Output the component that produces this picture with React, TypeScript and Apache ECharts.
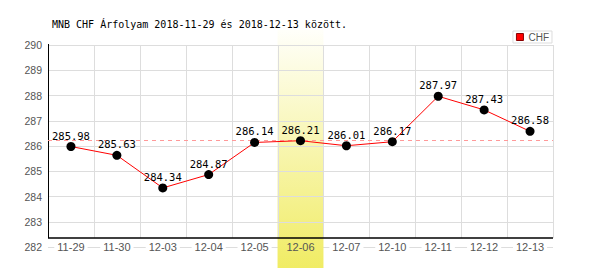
import React, { useEffect, useRef } from "react";
import * as echarts from "echarts";

const categories = ["11-29", "11-30", "12-03", "12-04", "12-05", "12-06", "12-07", "12-10", "12-11", "12-12", "12-13"];
const values = [285.98, 285.63, 284.34, 284.87, 286.14, 286.21, 286.01, 286.17, 287.97, 287.43, 286.58];
const selectedIndex = 5;
const referenceLevel = 286.21;
const yMin = 282;
const yMax = 290;
const yInterval = 1;
const titleText = "MNB CHF Árfolyam 2018-11-29 és 2018-12-13 között.";
const seriesName = "CHF";

const MONO = "'DejaVu Sans Mono', monospace";
const SANS = "'Liberation Sans', Arial, sans-serif";

export default function App() {
  const ref = useRef<HTMLDivElement>(null);
  useEffect(() => {
    if (!ref.current) return;
    const chart = echarts.init(ref.current, null, { renderer: "svg" });
    const base: any = {
      animation: false,
      title: {
        text: titleText,
        left: 52,
        top: 19,
        padding: 0,
        textStyle: { fontFamily: MONO, fontSize: 10, fontWeight: "normal", color: "#000" },
      },
      legend: {
        right: 48,
        top: 31,
        padding: [1, 3, 1, 3],
        borderColor: "#dddddd",
        borderWidth: 1,
        itemWidth: 7,
        itemHeight: 7,
        textStyle: { fontFamily: SANS, fontSize: 10, color: "#555" },
        data: [{ name: seriesName, icon: "rect", itemStyle: { color: "#ff0000", borderColor: "#880000", borderWidth: 1 } }],
      },
      grid: { left: 48, right: 47, top: 45, bottom: 23 },
      xAxis: {
        type: "category",
        z: 3,
        data: categories.map((c, i) => ({
          value: c,
          textStyle: { backgroundColor: i === selectedIndex ? "transparent" : "#ffffff" },
        })),
        boundaryGap: true,
        axisLine: { show: false },
        axisTick: { show: false },
        splitLine: { show: false },
        axisLabel: {
          margin: -6,
          fontFamily: SANS,
          fontSize: 11,
          color: "#555",
          padding: [0, 3, 0, 3],
          interval: 0,
        },
      },
      yAxis: {
        type: "value",
        min: yMin,
        max: yMax,
        interval: yInterval,
        z: 0,
        axisLine: { show: false },
        axisTick: { show: false },
        splitLine: { lineStyle: { color: "#dddddd", width: 1 } },
        axisLabel: { margin: 6, fontFamily: SANS, fontSize: 10.5, color: "#555" },
      },
      series: [
        {
          name: seriesName,
          type: "line",
          z: 5,
          data: values,
          lineStyle: { color: "#ff0000", width: 1 },
          itemStyle: { color: "#000000" },
          symbol: "circle",
          symbolSize: 9,
          label: {
            show: true,
            position: "top",
            distance: 1,
            fontFamily: MONO,
            fontSize: 10.5,
            color: "#000",
          },
          markLine: {
            silent: true,
            symbol: "none",
            label: { show: false },
            lineStyle: { color: "#ff9999", type: [4, 4], width: 1 },
            data: [{ yAxis: referenceLevel }],
          },
        },
      ],
    };
    chart.setOption(base);

    const x0 = chart.convertToPixel({ xAxisIndex: 0 }, 0) as number;
    const x1 = chart.convertToPixel({ xAxisIndex: 0 }, 1) as number;
    const step = x1 - x0;
    const yTop = chart.convertToPixel({ yAxisIndex: 0 }, yMax) as number;
    const yBot = chart.convertToPixel({ yAxisIndex: 0 }, yMin) as number;
    const axisY = yBot - 9;
    const n = categories.length;
    const bx = (i: number) => x0 - step / 2 + i * step;

    const bandTop = 30;
    const bandBottom = 268;
    const split = axisY + 1;
    const c0 = [255, 255, 250];
    const c1 = [240, 236, 100];
    const mix = (t: number) =>
      `rgb(${c0.map((v, k) => Math.round(v + (c1[k] - v) * t)).join(",")})`;
    const tSplit = (split - bandTop) / (bandBottom - bandTop);

    const elements: any[] = [];
    elements.push({
      type: "rect",
      z: -10,
      silent: true,
      shape: { x: bx(selectedIndex), y: bandTop, width: step, height: split - bandTop },
      style: {
        fill: new echarts.graphic.LinearGradient(0, 0, 0, 1, [
          { offset: 0, color: mix(0) },
          { offset: 1, color: mix(tSplit) },
        ]),
      },
    });
    elements.push({
      type: "rect",
      z: 1,
      silent: true,
      shape: { x: bx(selectedIndex), y: split, width: step, height: bandBottom - split },
      style: {
        fill: new echarts.graphic.LinearGradient(0, 0, 0, 1, [
          { offset: 0, color: mix(tSplit) },
          { offset: 1, color: mix(1) },
        ]),
      },
    });
    for (let i = 1; i <= n; i++) {
      elements.push({
        type: "line",
        z: 1,
        silent: true,
        shape: { x1: Math.round(bx(i)) + 0.5, y1: yTop, x2: Math.round(bx(i)) + 0.5, y2: axisY },
        style: { stroke: "#dddddd", lineWidth: 1 },
      });
    }
    elements.push({
      type: "line",
      z: 4,
      silent: true,
      shape: { x1: Math.round(bx(0)) + 0.5, y1: yTop - 1, x2: Math.round(bx(0)) + 0.5, y2: axisY },
      style: { stroke: "#000", lineWidth: 1 },
    });
    elements.push({
      type: "line",
      z: 4,
      silent: true,
      shape: { x1: bx(0), y1: axisY, x2: bx(n), y2: axisY },
      style: { stroke: "#000", lineWidth: 1.5 },
    });
    chart.setOption({ graphic: { elements } });

    return () => chart.dispose();
  }, []);
  return <div ref={ref} style={{ position: "fixed", left: 0, top: 0, width: 600, height: 270, background: "#fff" }} />;
}
